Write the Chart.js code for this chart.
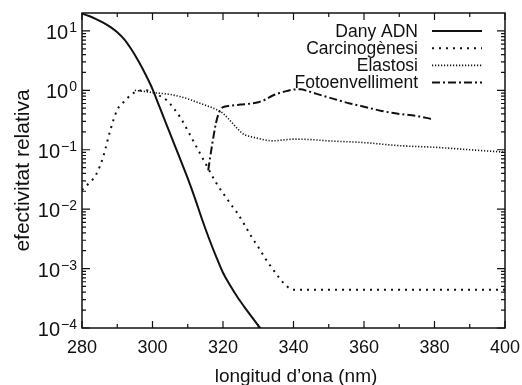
<!DOCTYPE html>
<html>
<head>
<meta charset="utf-8">
<script src="https://cdn.jsdelivr.net/npm/chart.js@4.4.1/dist/chart.umd.min.js"></script>
<style>
  html, body { margin: 0; padding: 0; background: #fff; }
  #wrap { width: 522px; height: 385px; }
</style>
</head>
<body>
<div id="wrap"><canvas id="chart" width="522" height="385"></canvas></div>
<script>
const FONT = '"Liberation Sans", Arial, Helvetica, sans-serif';
const INK = "#111";

// axes
const xMajorTicks = [280, 300, 320, 340, 360, 380, 400];
const xMinorTicks = [290, 310, 330, 350, 370, 390];
const yDecades = [-4, -3, -2, -1, 0, 1];
const yTickLabels = ["\u22124", "\u22123", "\u22122", "\u22121", "0", "1"];

// Dany ADN (solid)
const dnaWl  = [280, 282, 284, 286, 288, 290, 292, 294, 296, 298, 300, 302, 304, 306, 308, 310, 312, 314, 316, 318, 320, 322, 324, 326, 328, 330, 332];
const dnaVal = [19.5, 17.8, 15.8, 13.8, 11.7, 9.5, 7.2, 4.9, 3.1, 1.86, 1.05, 0.525, 0.263, 0.132, 0.066, 0.033, 0.0155, 0.0069, 0.00324, 0.00162, 0.00085, 0.000525, 0.000339, 0.000229, 0.000158, 0.00011, 0.0000776];

// Carcinogènesi (dotted)
const carcWl  = [280, 282, 284, 286, 288, 290, 292, 294, 296, 298, 300, 302, 304, 306, 308, 310, 312, 314, 316, 318, 320, 322, 324, 326, 328, 330, 332, 334, 336, 338, 340, 360, 380, 400];
const carcVal = [0.021, 0.0275, 0.038, 0.076, 0.21, 0.47, 0.65, 0.85, 0.98, 1.0, 0.93, 0.81, 0.68, 0.50, 0.34, 0.21, 0.126, 0.076, 0.046, 0.028, 0.0186, 0.0126, 0.0087, 0.0056, 0.0035, 0.0023, 0.00148, 0.00100, 0.00069, 0.00051, 0.000442, 0.000442, 0.000442, 0.000442];

// Elastosi (fine dots)
const elasWl  = [295, 300, 305, 308, 310, 312, 315, 318, 320, 322, 324, 326, 328, 330, 334, 338, 340, 345, 350, 360, 370, 380, 390, 400];
const elasVal = [1.0, 0.92, 0.85, 0.78, 0.72, 0.65, 0.56, 0.48, 0.41, 0.31, 0.23, 0.18, 0.166, 0.155, 0.141, 0.148, 0.151, 0.148, 0.141, 0.132, 0.117, 0.11, 0.10, 0.091];

// Fotoenvelliment (dash-dot)
const fotoWl  = [315.8, 317, 318, 319, 320, 322, 325, 328, 330, 332, 334, 336, 338, 340, 342, 344, 348, 352, 356, 360, 365, 370, 375, 379];
const fotoVal = [0.045, 0.13, 0.28, 0.44, 0.52, 0.55, 0.575, 0.60, 0.63, 0.70, 0.81, 0.90, 0.97, 1.03, 1.04, 0.97, 0.82, 0.70, 0.60, 0.53, 0.45, 0.40, 0.37, 0.33];

const toPoints = (xs, ys) => xs.map((x, i) => ({ x, y: ys[i] }));

const series = [
  { label: "Dany ADN",           xs: dnaWl,  ys: dnaVal,  dash: [],           width: 2 },
  { label: "Carcinog\u00e8nesi", xs: carcWl, ys: carcVal, dash: [2, 5],       width: 2 },
  { label: "Elastosi",           xs: elasWl, ys: elasVal, dash: [1.2, 1.8],   width: 1.6 },
  { label: "Fotoenvelliment",    xs: fotoWl, ys: fotoVal, dash: [8, 3, 2, 3], width: 2 }
];

// gnuplot-like frame: inward ticks on all four sides, superscript log labels, titles
const framePlugin = {
  id: "frame",
  afterDatasetsDraw(chart) {
    const { ctx, chartArea: a, scales: { x, y } } = chart;
    ctx.save();
    ctx.strokeStyle = INK;
    ctx.lineWidth = 1.5;
    ctx.setLineDash([]);
    ctx.strokeRect(a.left, a.top, a.right - a.left, a.bottom - a.top);

    ctx.lineWidth = 1.2;
    ctx.beginPath();
    const xTick = (v, len) => {
      const px = x.getPixelForValue(v);
      ctx.moveTo(px, a.bottom); ctx.lineTo(px, a.bottom - len);
      ctx.moveTo(px, a.top);    ctx.lineTo(px, a.top + len);
    };
    xMajorTicks.forEach(v => xTick(v, 7));
    xMinorTicks.forEach(v => xTick(v, 4));
    yDecades.forEach(e => {
      for (let k = 1; k <= 9; k++) {
        const v = k * Math.pow(10, e);
        if (v >= y.max) break;
        const py = y.getPixelForValue(v);
        const len = k === 1 ? 8 : 4;
        ctx.moveTo(a.left, py);  ctx.lineTo(a.left + len, py);
        ctx.moveTo(a.right, py); ctx.lineTo(a.right - len, py);
      }
    });
    ctx.stroke();

    ctx.fillStyle = INK;
    // x tick labels
    ctx.font = "18px " + FONT;
    ctx.textAlign = "center";
    ctx.textBaseline = "alphabetic";
    xMajorTicks.forEach(v => ctx.fillText(String(v), x.getPixelForValue(v), 353));

    // y tick labels: 10 with superscript exponent
    yDecades.forEach((e, i) => {
      const py = y.getPixelForValue(Math.pow(10, e));
      ctx.textAlign = "right";
      ctx.font = "14px " + FONT;
      const exp = yTickLabels[i];
      ctx.fillText(exp, 77, py + 1);
      const w = ctx.measureText(exp).width;
      ctx.font = "20px " + FONT;
      ctx.fillText("10", 77 - w - 1, py + 8);
    });

    // axis titles
    ctx.font = "19px " + FONT;
    ctx.textAlign = "center";
    ctx.fillText("longitud d\u2019ona (nm)", 296, 382);
    ctx.save();
    ctx.translate(29, (a.top + a.bottom) / 2);
    ctx.rotate(-Math.PI / 2);
    ctx.font = "21px " + FONT;
    ctx.fillText("efectivitat relativa", 0, 0);
    ctx.restore();
    ctx.restore();
  },
  afterDraw(chart) {
    // key: right-aligned text, line sample to the right
    const { ctx } = chart;
    ctx.save();
    ctx.font = "17.5px " + FONT;
    ctx.fillStyle = INK;
    ctx.textAlign = "right";
    ctx.textBaseline = "middle";
    chart.data.datasets.forEach((ds, i) => {
      const ry = 31 + i * 17.2;
      ctx.fillText(ds.label, 418, ry + 1);
      ctx.strokeStyle = ds.borderColor;
      ctx.lineWidth = ds.borderWidth;
      ctx.setLineDash(ds.borderDash);
      ctx.beginPath();
      ctx.moveTo(432, ry);
      ctx.lineTo(482, ry);
      ctx.stroke();
    });
    ctx.restore();
  }
};

new Chart(document.getElementById("chart"), {
  type: "line",
  data: {
    datasets: series.map(s => ({
      label: s.label,
      data: toPoints(s.xs, s.ys),
      borderColor: INK,
      borderWidth: s.width,
      borderDash: s.dash,
      borderCapStyle: "butt",
      pointRadius: 0,
      fill: false,
      cubicInterpolationMode: "monotone"
    }))
  },
  options: {
    responsive: false,
    animation: false,
    devicePixelRatio: 1,
    layout: { padding: { left: 82, top: 13, right: 17, bottom: 57 } },
    plugins: { legend: { display: false }, tooltip: { enabled: false } },
    scales: {
      x: { type: "linear", min: 280, max: 400, display: false },
      y: { type: "logarithmic", min: 1e-4, max: 20, display: false }
    }
  },
  plugins: [framePlugin]
});
</script>
</body>
</html>
